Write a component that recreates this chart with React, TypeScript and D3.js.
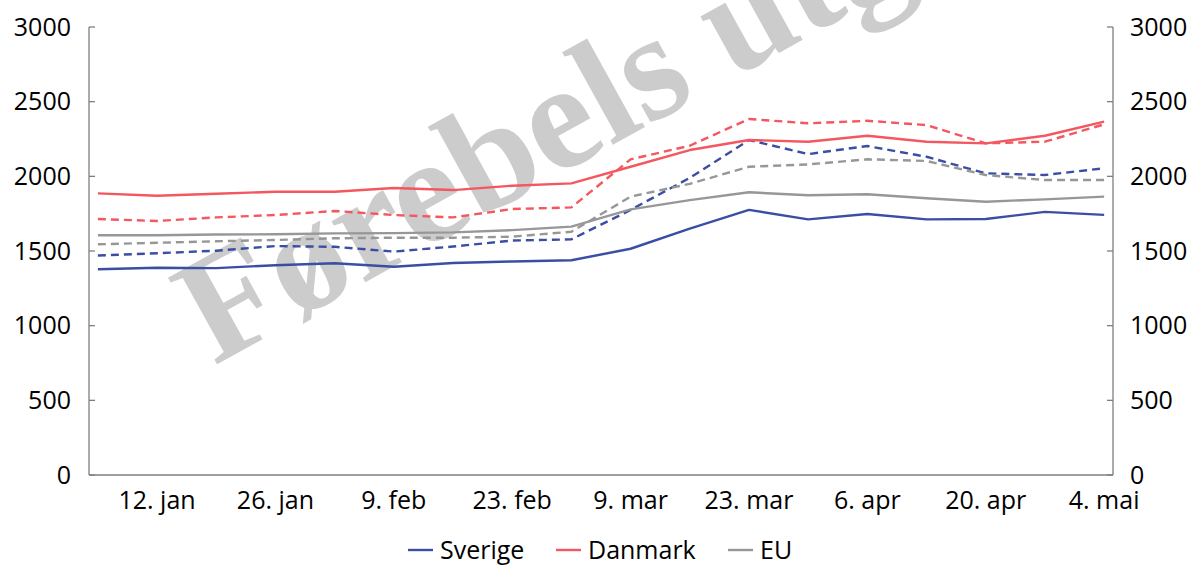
import React from 'react'
import * as d3 from 'd3'

// weekly observations, 5. jan - 4. mai
const weeks = [
  '5. jan', '12. jan', '19. jan', '26. jan', '2. feb', '9. feb', '16. feb', '23. feb', '2. mar',
  '9. mar', '16. mar', '23. mar', '30. mar', '6. apr', '13. apr', '20. apr', '27. apr', '4. mai'
]
const tickLabels = ['12. jan', '26. jan', '9. feb', '23. feb', '9. mar', '23. mar', '6. apr', '20. apr', '4. mai']
const yTicks = [0, 500, 1000, 1500, 2000, 2500, 3000]

const sverige = [1378, 1388, 1385, 1405, 1418, 1395, 1420, 1430, 1438, 1515, 1650, 1775, 1712, 1748, 1712, 1714, 1762, 1742]
const sverigeDashed = [1470, 1485, 1502, 1533, 1528, 1496, 1530, 1570, 1578, 1775, 1990, 2243, 2149, 2203, 2131, 2020, 2009, 2054]
const danmark = [1886, 1870, 1883, 1897, 1897, 1922, 1908, 1937, 1953, 2064, 2176, 2243, 2232, 2272, 2232, 2221, 2272, 2366]
const danmarkDashed = [1714, 1701, 1725, 1741, 1768, 1741, 1725, 1781, 1792, 2114, 2205, 2384, 2355, 2372, 2343, 2221, 2232, 2348]
const eu = [1605, 1605, 1610, 1612, 1618, 1620, 1625, 1640, 1663, 1779, 1841, 1893, 1873, 1880, 1853, 1830, 1846, 1864]
const euDashed = [1545, 1555, 1565, 1574, 1585, 1589, 1589, 1596, 1629, 1864, 1950, 2064, 2080, 2114, 2103, 2009, 1975, 1975]

const BLUE = '#3a4ea3'
const RED = '#f4575f'
const GREY = '#979797'

const series = [
  { name: 'Sverige', values: sverige, color: BLUE, dashed: false },
  { name: 'Sverige dashed', values: sverigeDashed, color: BLUE, dashed: true },
  { name: 'Danmark', values: danmark, color: RED, dashed: false },
  { name: 'Danmark dashed', values: danmarkDashed, color: RED, dashed: true },
  { name: 'EU', values: eu, color: GREY, dashed: false },
  { name: 'EU dashed', values: euDashed, color: GREY, dashed: true },
]
const legendItems = [
  { name: 'Sverige', color: BLUE },
  { name: 'Danmark', color: RED },
  { name: 'EU', color: GREY },
]

export default function App() {
  const width = 1201, height = 565
  const m = { top: 27, right: 88, bottom: 90, left: 89 }
  const x0 = m.left, x1 = width - m.right
  const yBottom = height - m.bottom

  const x = d3.scalePoint<string>().domain(weeks).range([x0, x1]).padding(0.15)
  const y = d3.scaleLinear().domain([0, 3000]).range([yBottom, m.top])

  const line = d3.line<number>()
    .x((_, i) => x(weeks[i]) as number)
    .y(d => y(d))

  const font = '"Open Sans", sans-serif'
  const axisColor = '#7f7f7f'
  const fs = 25

  const legendX = [408, 556, 728]

  return (
    <svg width={width} height={height} style={{ position: 'absolute', left: 0, top: 0, background: '#fff' }}
      fontFamily={font}>
      <text x={214} y={366} transform="rotate(-29 214 366)" fontFamily='"Liberation Serif", serif'
        fontWeight="bold" fontSize={152} fill="#cccccc">Førebels utgåve</text>

      {/* axes */}
      <line x1={x0} x2={x0} y1={m.top} y2={yBottom} stroke={axisColor} strokeWidth={1.3} />
      <line x1={x1} x2={x1} y1={m.top} y2={yBottom} stroke={axisColor} strokeWidth={1.3} />
      <line x1={x0} x2={x1} y1={yBottom} y2={yBottom} stroke={axisColor} strokeWidth={1.3} />
      {yTicks.map(t => (
        <g key={t}>
          <line x1={x0} x2={x0 + 6} y1={y(t)} y2={y(t)} stroke={axisColor} strokeWidth={1.3} />
          <line x1={x1 - 6} x2={x1} y1={y(t)} y2={y(t)} stroke={axisColor} strokeWidth={1.3} />
          <text x={x0 - 18} y={y(t)} dy="0.35em" textAnchor="end" fontSize={fs} fill="#000">{t}</text>
          <text x={x1 + 17} y={y(t)} dy="0.35em" textAnchor="start" fontSize={fs} fill="#000">{t}</text>
        </g>
      ))}
      {tickLabels.map(l => (
        <text key={l} x={x(l) as number} y={yBottom + 34} textAnchor="middle" fontSize={fs} fill="#000">{l}</text>
      ))}

      {series.map(s => (
        <path key={s.name} d={line(s.values) || ''} fill="none" stroke={s.color} strokeWidth={2.4}
          strokeDasharray={s.dashed ? '8,5' : undefined} strokeLinejoin="round" />
      ))}

      {legendItems.map((it, i) => (
        <g key={it.name} transform={`translate(${legendX[i]},550)`}>
          <line x1={0} x2={25} y1={0} y2={0} stroke={it.color} strokeWidth={2.4} />
          <text x={32} y={0} dy="0.35em" fontSize={fs} fill="#000">{it.name}</text>
        </g>
      ))}
    </svg>
  )
}
